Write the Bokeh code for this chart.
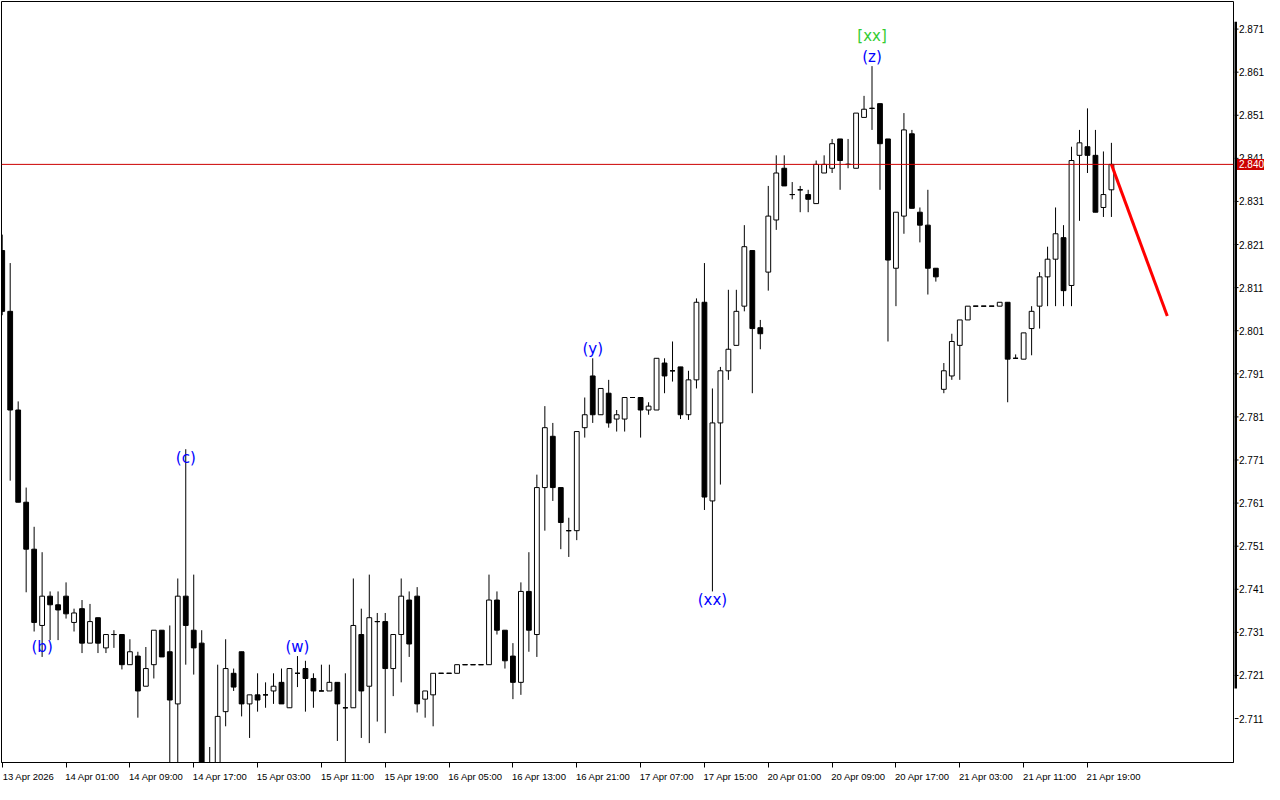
from bokeh.plotting import figure
from bokeh.layouts import row
from bokeh.models import Range1d, FixedTicker, Span, ColumnDataSource
from bokeh.core.properties import value
from bokeh.embed import file_html
from bokeh.resources import INLINE

# ---------------- data (hourly candles) ----------------
opens = [
    2.8196, 2.8055, 2.7826, 2.7612, 2.7503, 2.7326, 2.7394, 2.7374, 2.7394, 2.7333,
    2.7365, 2.7285, 2.7344, 2.7274, 2.7305, 2.7305, 2.7235, 2.7255, 2.7185, 2.7235,
    2.7315, 2.7265, 2.7144, 2.7394, 2.7315, 2.7285, 2.6971, 2.6983, 2.7126, 2.7215,
    2.7265, 2.7144, 2.7165, 2.7165, 2.7174, 2.7194, 2.7135, 2.7215, 2.7226, 2.7203,
    2.7174, 2.7174, 2.7194, 2.7135, 2.7135, 2.7305, 2.7185, 2.7335, 2.7335, 2.7226,
    2.7305, 2.7385, 2.7394, 2.7155, 2.7165, 2.7215, 2.7215, 2.7215, 2.7235, 2.7235,
    2.7235, 2.7235, 2.7385, 2.7315, 2.7255, 2.7194, 2.7405, 2.7305, 2.7646, 2.7765,
    2.7646, 2.7546, 2.7546, 2.7785, 2.7905, 2.7815, 2.7865, 2.7805, 2.7805, 2.7855,
    2.7855, 2.7826, 2.7826, 2.7935, 2.7917, 2.7926, 2.7815, 2.7896, 2.8076, 2.7615,
    2.7796, 2.7917, 2.7976, 2.8067, 2.8196, 2.8017, 2.8146, 2.8267, 2.8387, 2.8326,
    2.8337, 2.8326, 2.8305, 2.8376, 2.8387, 2.8455, 2.8396, 2.8387, 2.8505, 2.8526,
    2.8537, 2.8455, 2.8155, 2.8276, 2.8467, 2.8285, 2.8255, 2.8155, 2.7874, 2.7905,
    2.7976, 2.8035, 2.8067, 2.8067, 2.8067, 2.8067, 2.8076, 2.7946, 2.7944, 2.8015,
    2.8067, 2.8135, 2.8176, 2.8226, 2.8115, 2.8417, 2.8437, 2.8417, 2.8296, 2.8337,
]
highs = [
    2.8233, 2.8167, 2.7846, 2.7646, 2.7555, 2.7496, 2.7405, 2.7405, 2.7426, 2.7365,
    2.7385, 2.7376, 2.7344, 2.7305, 2.7315, 2.7305, 2.7294, 2.7265, 2.7276, 2.7315,
    2.7315, 2.7326, 2.7435, 2.7735, 2.7444, 2.7315, 2.7044, 2.7235, 2.7294, 2.7226,
    2.7265, 2.7165, 2.7215, 2.7194, 2.7215, 2.7226, 2.7226, 2.7255, 2.7244, 2.7215,
    2.7235, 2.7235, 2.7194, 2.7215, 2.7435, 2.7365, 2.7444, 2.7355, 2.7355, 2.7305,
    2.7435, 2.7405, 2.7415, 2.7174, 2.7215, 2.7215, 2.7215, 2.7235, 2.7235, 2.7235,
    2.7235, 2.7444, 2.7405, 2.7315, 2.7285, 2.7426, 2.7496, 2.7676, 2.7835, 2.7796,
    2.7646, 2.7576, 2.7776, 2.7855, 2.7946, 2.7876, 2.7896, 2.7826, 2.7855, 2.7855,
    2.7855, 2.7844, 2.7946, 2.7946, 2.7985, 2.7926, 2.7917, 2.8085, 2.8167, 2.7876,
    2.7926, 2.8105, 2.8105, 2.8255, 2.8196, 2.8035, 2.8346, 2.8417, 2.8417, 2.8355,
    2.8346, 2.8337, 2.8405, 2.8417, 2.8455, 2.8455, 2.8455, 2.8515, 2.8555, 2.8624,
    2.8537, 2.8455, 2.8285, 2.8515, 2.8476, 2.8296, 2.8337, 2.8155, 2.7935, 2.8003,
    2.8035, 2.8067, 2.8067, 2.8067, 2.8067, 2.8076, 2.8076, 2.7955, 2.8005, 2.8067,
    2.8146, 2.8205, 2.8296, 2.8255, 2.8437, 2.8476, 2.8526, 2.8476, 2.8426, 2.8446,
]
lows = [
    2.8046, 2.7662, 2.7612, 2.7403, 2.7312, 2.7253, 2.7292, 2.7292, 2.7342, 2.7312,
    2.7262, 2.7285, 2.7262, 2.7262, 2.7274, 2.7224, 2.7235, 2.7112, 2.7185, 2.7203,
    2.7253, 2.6994, 2.6994, 2.7235, 2.7212, 2.6960, 2.6949, 2.6971, 2.7092, 2.7174,
    2.7115, 2.7065, 2.7126, 2.7135, 2.7144, 2.7144, 2.7135, 2.7183, 2.7126, 2.7135,
    2.7174, 2.7174, 2.7058, 2.6994, 2.7135, 2.7065, 2.7053, 2.7103, 2.7076, 2.7162,
    2.7194, 2.7253, 2.7124, 2.7112, 2.7092, 2.7215, 2.7215, 2.7215, 2.7235, 2.7235,
    2.7235, 2.7235, 2.7305, 2.7226, 2.7155, 2.7165, 2.7265, 2.7253, 2.7546, 2.7615,
    2.7503, 2.7485, 2.7524, 2.7762, 2.7796, 2.7815, 2.7785, 2.7776, 2.7776, 2.7855,
    2.7762, 2.7815, 2.7826, 2.7865, 2.7892, 2.7805, 2.7803, 2.7876, 2.7594, 2.7405,
    2.7653, 2.7896, 2.7976, 2.8055, 2.7865, 2.7967, 2.8103, 2.8244, 2.8346, 2.8315,
    2.8285, 2.8285, 2.8305, 2.8376, 2.8376, 2.8337, 2.8387, 2.8387, 2.8505, 2.8476,
    2.8337, 2.7985, 2.8067, 2.8235, 2.8294, 2.8215, 2.8094, 2.8124, 2.7865, 2.7896,
    2.7896, 2.8035, 2.8067, 2.8067, 2.8067, 2.8067, 2.7844, 2.7946, 2.7944, 2.7953,
    2.8015, 2.8067, 2.8067, 2.8067, 2.8067, 2.8265, 2.8376, 2.8285, 2.8274, 2.8274,
]
closes = [
    2.8055, 2.7826, 2.7612, 2.7503, 2.7333, 2.7394, 2.7374, 2.7362, 2.7353, 2.7355,
    2.7285, 2.7335, 2.7285, 2.7305, 2.7305, 2.7235, 2.7265, 2.7174, 2.7226, 2.7315,
    2.7253, 2.7153, 2.7394, 2.7326, 2.7274, 2.6983, 2.6983, 2.7115, 2.7226, 2.7183,
    2.7144, 2.7165, 2.7153, 2.7165, 2.7185, 2.7144, 2.7226, 2.7215, 2.7203, 2.7174,
    2.7174, 2.7194, 2.7144, 2.7135, 2.7326, 2.7174, 2.7344, 2.7335, 2.7226, 2.7305,
    2.7394, 2.7283, 2.7144, 2.7174, 2.7215, 2.7215, 2.7215, 2.7235, 2.7235, 2.7235,
    2.7235, 2.7385, 2.7315, 2.7244, 2.7194, 2.7405, 2.7315, 2.7646, 2.7785, 2.7646,
    2.7565, 2.7546, 2.7776, 2.7815, 2.7815, 2.7876, 2.7796, 2.7815, 2.7855, 2.7855,
    2.7826, 2.7835, 2.7946, 2.7905, 2.7917, 2.7815, 2.7896, 2.8076, 2.7624, 2.7796,
    2.7917, 2.7967, 2.8055, 2.8205, 2.8015, 2.8003, 2.8276, 2.8376, 2.8346, 2.8326,
    2.8337, 2.8315, 2.8396, 2.8396, 2.8444, 2.8405, 2.8396, 2.8515, 2.8524, 2.8526,
    2.8444, 2.8174, 2.8285, 2.8476, 2.8294, 2.8255, 2.8155, 2.8135, 2.7917, 2.7985,
    2.8035, 2.8067, 2.8067, 2.8067, 2.8067, 2.8076, 2.7944, 2.7946, 2.8005, 2.8055,
    2.8135, 2.8176, 2.8235, 2.8103, 2.8405, 2.8446, 2.8417, 2.8285, 2.8326, 2.8396,
]

time_labels = [
    "13 Apr 2026", "14 Apr 01:00", "14 Apr 09:00", "14 Apr 17:00", "15 Apr 03:00",
    "15 Apr 11:00", "15 Apr 19:00", "16 Apr 05:00", "16 Apr 13:00", "16 Apr 21:00",
    "17 Apr 07:00", "17 Apr 15:00", "20 Apr 01:00", "20 Apr 09:00", "20 Apr 17:00",
    "21 Apr 03:00", "21 Apr 11:00", "21 Apr 19:00",
]
bars_per_label = 8

price_ticks = [2.711, 2.721, 2.731, 2.741, 2.751, 2.761, 2.771, 2.781, 2.791,
               2.801, 2.811, 2.821, 2.831, 2.841, 2.851, 2.861, 2.871]
price_labels = ["%.3f" % t for t in price_ticks]

visible_price_range = [2.7180, 2.8727]   # thick marker on the price scale

current_price = 2.8396
current_price_text = "2.840"

forecast_bars = [139, 146]
forecast_prices = [2.8396, 2.8044]

wave_text = ["(a)", "(b)", "(c)", "(w)", "(y)", "(xx)", "(z)", "[xx]"]
wave_bar = [-1.45, 5, 23, 37, 74, 89, 109, 109]
wave_price = [2.8267, 2.7276, 2.7715, 2.7276, 2.7967, 2.7385, 2.8646, 2.8694]
wave_color = ["#0000FF"] * 7 + ["#33CC33"]

# ---------------- layout constants ----------------
x_start, x_end = -0.09, 154.3
y_start, y_end = 2.7008, 2.8774
H = 784
TOP, BOTTOM = 1, 19
STRIP_W = 30
RED = "#CC0000"

yr = Range1d(y_start, y_end)

# ---------------- main chart ----------------
p = figure(width=1234, height=H,
           x_range=Range1d(x_start, x_end), y_range=yr,
           y_axis_location=None, output_backend="svg", toolbar_location=None,
           min_border_left=1, min_border_top=TOP, min_border_right=1, min_border_bottom=BOTTOM,
           background_fill_color="white", border_fill_color="white",
           outline_line_color="black", outline_line_width=1)
p.xgrid.visible = False
p.ygrid.visible = False

idx = list(range(len(opens)))
body_top = [max(o, c) for o, c in zip(opens, closes)]
body_bot = [min(o, c) for o, c in zip(opens, closes)]
fills = ["white" if c >= o else "black" for o, c in zip(opens, closes)]

src = ColumnDataSource(dict(x=idx, o=opens, h=highs, l=lows, c=closes,
                            top=body_top, bot=body_bot, fill=fills))

p.segment(x0="x", y0="l", x1="x", y1="h", source=src, line_color="black", line_width=1)
p.vbar(x="x", width=0.6, top="top", bottom="bot", source=src,
       fill_color="fill", line_color="black", line_width=1)

doji_x = [i for i in idx if abs(opens[i] - closes[i]) < 1e-9]
doji_y = [opens[i] for i in doji_x]
p.segment(x0=[x - 0.3 for x in doji_x], y0=doji_y, x1=[x + 0.3 for x in doji_x], y1=doji_y,
          line_color="black", line_width=1)

p.add_layout(Span(location=current_price, dimension="width", line_color=RED, line_width=1))
p.line(forecast_bars, forecast_prices, line_color="#FF0000", line_width=3)

p.text(x=wave_bar, y=wave_price, text=wave_text, text_color=wave_color,
       text_font=value("DejaVu Sans"), text_font_size="15px",
       text_align="center", text_baseline="middle")

# time axis: tick marks at the bars (minor ticks), labels starting at the tick
label_bars = list(range(0, len(opens), bars_per_label))[:len(time_labels)]
label_shift = 3.3
label_centers = [b + label_shift for b in label_bars]
xa = p.xaxis[0]
xa.ticker = FixedTicker(ticks=label_centers, minor_ticks=label_bars)
xa.major_label_overrides = {c: t for c, t in zip(label_centers, time_labels)}
xa.major_tick_out = 0
xa.major_tick_in = 0
xa.major_tick_line_color = None
xa.minor_tick_out = 5
xa.minor_tick_in = 0
xa.minor_tick_line_color = "black"
xa.axis_line_color = "black"
xa.major_label_text_font = "Liberation Sans"
xa.major_label_text_font_size = "9.5px"
xa.major_label_text_color = "black"
xa.major_label_standoff = 3

# ---------------- price scale strip ----------------
s = figure(width=STRIP_W, height=H, x_range=Range1d(0, STRIP_W), y_range=yr,
           x_axis_location=None, y_axis_location=None,
           output_backend="svg", toolbar_location=None,
           min_border_left=0, min_border_right=0, min_border_top=TOP, min_border_bottom=BOTTOM,
           background_fill_color="white", border_fill_color="white",
           outline_line_color=None)
s.xgrid.visible = False
s.ygrid.visible = False

s.segment(x0=[0] * len(price_ticks), y0=price_ticks, x1=[4] * len(price_ticks), y1=price_ticks,
          line_color="black", line_width=1)
s.text(x=[4.5] * len(price_ticks), y=price_ticks, text=price_labels,
       text_font=value("Liberation Sans"), text_font_size="10px", text_color="black",
       text_align="left", text_baseline="middle")
s.segment(x0=[1], y0=[visible_price_range[0]], x1=[1], y1=[visible_price_range[1]],
          line_color="black", line_width=3)
s.rect(x=[16], y=[current_price], width=27, height=11, height_units="screen",
       fill_color=RED, line_color=None)
s.text(x=[4.5], y=[current_price], text=[current_price_text],
       text_font=value("Liberation Sans"), text_font_size="10px", text_color="white",
       text_align="left", text_baseline="middle")

open("out.html", "w").write(file_html(row(p, s), INLINE))
